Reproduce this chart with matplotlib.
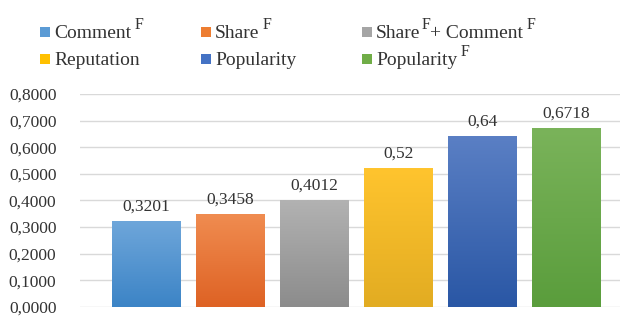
import matplotlib
matplotlib.use("Agg")
import matplotlib.pyplot as plt
from matplotlib.colors import LinearSegmentedColormap
from matplotlib.patches import Rectangle
import numpy as np

plt.rcParams['font.family'] = 'Liberation Serif'

# legend labels as pieces: (text, is_superscript)
labels = [[("Comment", 0), ("F", 1)],
          [("Share", 0), ("F", 1)],
          [("Share", 0), ("F", 1), ("+ Comment", 0), ("F", 1)],
          [("Reputation", 0)],
          [("Popularity", 0)],
          [("Popularity", 0), ("F", 1)]]
values = [0.3201, 0.3458, 0.4012, 0.52, 0.64, 0.6718]
value_text = ["0,3201", "0,3458", "0,4012", "0,52", "0,64", "0,6718"]
yticks = [0.0, 0.1, 0.2, 0.3, 0.4, 0.5, 0.6, 0.7, 0.8]
ytick_text = ["0,0000", "0,1000", "0,2000", "0,3000", "0,4000",
              "0,5000", "0,6000", "0,7000", "0,8000"]

base = ['#5b9bd5', '#ed7d31', '#a5a5a5', '#ffc000', '#4472c4', '#70ad47']
tops = ['#6ea6da', '#f08c50', '#b2b2b2', '#ffc42e', '#5a7fc4', '#7ab35a']
bottoms = ['#3c84c6', '#de6224', '#8c8c8c', '#e2ac22', '#2a57a5', '#5a9d3c']
txtcol = '#333333'

W, H = 625, 317
fig = plt.figure(figsize=(6.25, 3.17), dpi=100)
ax = fig.add_axes([80/W, 10/H, 540/W, 213/H])

x = np.arange(len(values))
bars = ax.bar(x, values, width=0.81, color='none', zorder=2)
grad = np.linspace(0, 1, 100).reshape(-1, 1)
for b, t, bo in zip(bars, tops, bottoms):
    cmap = LinearSegmentedColormap.from_list('g', [bo, t])
    ax.imshow(grad, cmap=cmap, aspect='auto', origin='lower', zorder=2,
              extent=[b.get_x(), b.get_x() + b.get_width(), 0, b.get_height()])

for xi, v, s in zip(x, values, value_text):
    ax.text(xi, v + 0.026, s, ha='center', va='bottom', fontsize=12.5, color=txtcol)

ax.set_xlim(-0.79, 5.64)
ax.set_ylim(0, 0.8)
ax.set_yticks(yticks)
ax.set_yticklabels(ytick_text, fontsize=12.5, color=txtcol)
ax.set_xticks([])
ax.tick_params(axis='y', length=0, pad=17)
ax.grid(axis='y', color='#d9d9d9', linewidth=1, zorder=0)
ax.set_axisbelow(True)
for sp in ax.spines.values():
    sp.set_visible(False)

# manual legend, 3 columns x 2 rows, row-major like the original
fig.canvas.draw()
r = fig.canvas.get_renderer()
col_x = [40, 201, 362]
row_y = [H - 38, H - 65]   # text baseline in pixels from bottom
for i, (pieces, c) in enumerate(zip(labels, base)):
    cx = col_x[i % 3]
    by = row_y[i // 3]
    fig.patches.append(Rectangle((cx / W, (by + 1) / H), 10 / W, 10 / H,
                                 transform=fig.transFigure, facecolor=c,
                                 edgecolor='none'))
    px = cx + 14
    for j, (s, sup) in enumerate(pieces):
        if sup:
            px += 3 if j == len(pieces) - 1 else 1
            t = fig.text(px / W, (by + 9) / H, s, fontsize=11.5, color=txtcol,
                         ha='left', va='baseline')
        else:
            t = fig.text(px / W, by / H, s, fontsize=14, color=txtcol,
                         ha='left', va='baseline')
        px = t.get_window_extent(r).x1

fig.savefig('out.png', dpi=100)
